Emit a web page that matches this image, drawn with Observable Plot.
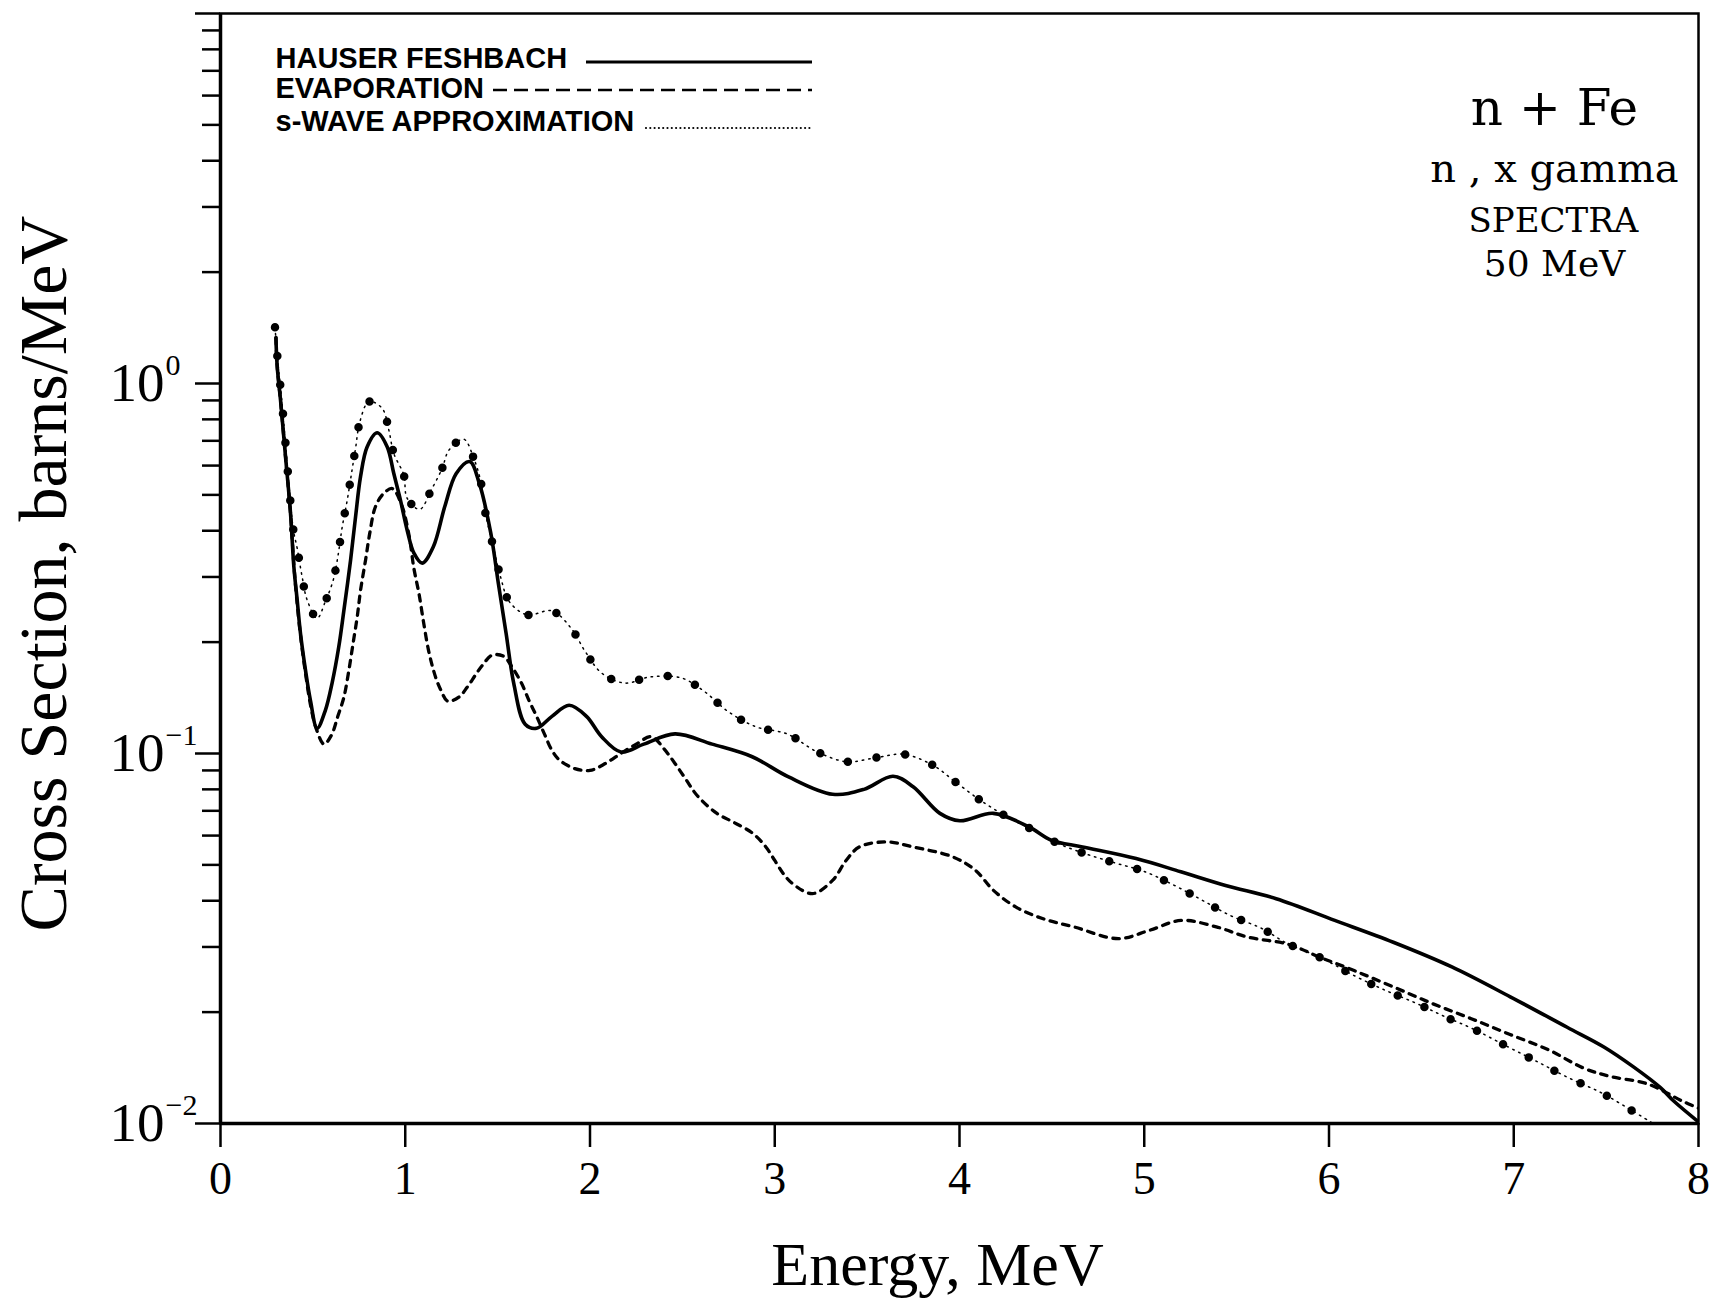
<!DOCTYPE html>
<html><head><meta charset="utf-8">
<script src="https://cdn.jsdelivr.net/npm/d3@7"></script>
<script src="https://cdn.jsdelivr.net/npm/@observablehq/plot@0.6"></script>
<style>html,body{margin:0;padding:0;background:#fff;} #chart{position:relative;width:1712px;height:1302px;}</style>
</head><body><div id="chart"></div>
<script>
// ---- data ----
const hfE = [0.30,0.307,0.325,0.352,0.379,0.397,0.415,0.433,0.46,0.487,0.523,0.568,0.604,0.64,0.668,0.704,0.731,0.758,0.794,0.848,0.902,0.938,0.974,1.01,1.047,1.092,1.152,1.214,1.276,1.349,1.401,1.463,1.504,1.546,1.587,1.649,1.711,1.794,1.887,1.981,2.063,2.167,2.291,2.46,2.661,2.878,3.072,3.313,3.483,3.64,3.749,3.894,4.002,4.183,4.376,4.497,4.666,4.956,5.198,5.44,5.714,6.031,6.348,6.665,6.981,7.289,7.488,7.65,7.794,7.866,8.0];
const hfV = [1.33,1.11,0.90,0.634,0.446,0.32,0.26,0.211,0.168,0.139,0.117,0.131,0.155,0.194,0.244,0.333,0.436,0.56,0.675,0.736,0.675,0.571,0.484,0.402,0.348,0.327,0.362,0.465,0.571,0.615,0.537,0.394,0.288,0.211,0.155,0.120,0.117,0.126,0.135,0.126,0.111,0.101,0.106,0.113,0.106,0.098,0.0866,0.0776,0.080,0.0868,0.0813,0.0689,0.0658,0.0689,0.0633,0.0583,0.0559,0.052,0.0479,0.044,0.0405,0.0354,0.0309,0.0265,0.022,0.0182,0.0161,0.0142,0.0125,0.0115,0.0101];

const evE = [0.30,0.307,0.325,0.352,0.379,0.40,0.43,0.46,0.49,0.52,0.56,0.60,0.635,0.668,0.695,0.718,0.74,0.758,0.785,0.808,0.839,0.884,0.93,0.98,1.02,1.047,1.074,1.10,1.128,1.164,1.191,1.23,1.29,1.335,1.38,1.417,1.471,1.533,1.579,1.629,1.67,1.711,1.753,1.794,1.835,1.918,2.0,2.084,2.167,2.25,2.333,2.40,2.46,2.52,2.58,2.685,2.782,2.878,2.951,3.0,3.047,3.096,3.204,3.313,3.386,3.458,3.603,3.749,3.966,4.087,4.183,4.304,4.449,4.618,4.86,5.03,5.2,5.39,5.56,5.78,5.946,6.136,6.348,6.559,6.77,6.98,7.19,7.38,7.524,7.723,7.912,8.0];
const evV = [1.33,1.11,0.90,0.634,0.446,0.31,0.215,0.165,0.133,0.116,0.106,0.112,0.126,0.142,0.168,0.199,0.234,0.276,0.333,0.394,0.465,0.505,0.52,0.47,0.39,0.316,0.271,0.225,0.188,0.161,0.149,0.1385,0.142,0.151,0.163,0.173,0.1845,0.183,0.171,0.155,0.139,0.126,0.113,0.102,0.096,0.091,0.090,0.094,0.100,0.106,0.111,0.103,0.094,0.085,0.077,0.069,0.065,0.061,0.056,0.0514,0.0473,0.0445,0.0418,0.0454,0.0514,0.0559,0.0577,0.0559,0.0525,0.0483,0.0427,0.0385,0.0358,0.034,0.0316,0.0333,0.0354,0.034,0.0319,0.0305,0.0282,0.0259,0.0234,0.0211,0.0192,0.0174,0.0158,0.0141,0.0134,0.0128,0.0115,0.011];

const swE = [0.295,0.31,0.33,0.355,0.375,0.395,0.415,0.442,0.469,0.523,0.568,0.61,0.635,0.659,0.686,0.709,0.731,0.754,0.803,0.875,0.911,0.938,0.992,1.01,1.079,1.14,1.2,1.236,1.317,1.371,1.407,1.434,1.479,1.516,1.564,1.66,1.794,1.898,1.976,2.063,2.19,2.323,2.495,2.62,2.746,2.9,3.066,3.23,3.391,3.55,3.70,3.857,3.978,4.112,4.256,4.401,4.534,4.691,4.848,5.0,5.163,5.307,5.465,5.634,5.777,5.953,6.143,6.305,6.475,6.622,6.781,6.97,7.126,7.295,7.475,7.631,7.754];
const swV = [1.42,1.15,0.92,0.66,0.50,0.40,0.359,0.30,0.26,0.232,0.258,0.294,0.34,0.41,0.484,0.571,0.668,0.787,0.893,0.857,0.749,0.647,0.566,0.49,0.457,0.515,0.59,0.66,0.707,0.627,0.548,0.446,0.358,0.30,0.257,0.237,0.243,0.218,0.188,0.165,0.155,0.161,0.160,0.147,0.130,0.118,0.113,0.101,0.095,0.0975,0.0995,0.0929,0.0838,0.0748,0.0675,0.062,0.0571,0.0534,0.0505,0.048,0.044,0.0403,0.0365,0.0337,0.0306,0.0281,0.025,0.0229,0.0211,0.0195,0.018,0.0161,0.0147,0.0133,0.0121,0.0109,0.0100];

const xTicks = [0,1,2,3,4,5,6,7,8];
const yMajor = [0.01,0.1,1,10];
const yExponents = ["\u22122","\u22121","0"];
const legendLabels = ["HAUSER FESHBACH","EVAPORATION","s-WAVE APPROXIMATION"];
const annotation = ["n + Fe","n , x gamma","SPECTRA","50 MeV"];

// ---- build tables ----
const toRows = (E, V) => E.map((e, i) => ({e, v: V[i]}));
const hf = toRows(hfE, hfV), ev = toRows(evE, evV), sw = toRows(swE, swV);
const yMinor = [];
for (const d of [0.01, 0.1, 1]) for (let k = 2; k <= 9; k++) yMinor.push(+(k * d).toPrecision(3));

const W = 1712, H = 1302, mL = 220, mR = 14, mT = 13, mB = 179;
const serif = "'Liberation Serif', 'DejaVu Serif', serif";
const wide = "'DejaVu Serif', serif";
const legendFont = "'Liberation Sans', sans-serif";

const plot = Plot.plot({
  width: W, height: H,
  marginLeft: mL, marginRight: mR, marginTop: mT, marginBottom: mB,
  style: {fontFamily: serif, background: "#fff", color: "#000", overflow: "visible"},
  x: {domain: [0, 8]},
  y: {type: "log", domain: [0.01, 10]},
  marks: [
    Plot.axisY({ticks: yMinor, tickSize: 18, tickFormat: () => "", strokeWidth: 2.5, label: null}),
    Plot.axisY({ticks: yMajor, tickSize: 25, tickPadding: 31, tickFormat: d => d >= 10 ? "" : "10",
      fontSize: 55, strokeWidth: 2.5, label: null}),
    Plot.text(yMajor.slice(0, 3), {y: d => d, text: (d, i) => yExponents[i], frameAnchor: "left",
      dx: -55, dy: -18, textAnchor: "start", fontSize: 30}),
    Plot.axisX({ticks: xTicks, tickSize: 24, tickPadding: 14, tickFormat: d => String(d),
      fontSize: 46, strokeWidth: 2.5, label: null}),
    Plot.frame({strokeWidth: 2.5}),
    Plot.ruleX([0], {strokeWidth: 3.5}),
    Plot.ruleY([0.01], {strokeWidth: 3.5}),
    // curves
    Plot.line(ev, {x: "e", y: "v", curve: "catmull-rom", stroke: "#000", strokeWidth: 3.3, strokeDasharray: "6.5 6.5", clip: true}),
    Plot.line(sw, {x: "e", y: "v", curve: "catmull-rom", stroke: "#000", strokeWidth: 1.5, strokeDasharray: "1.5 5", strokeLinecap: "round", clip: true}),
    Plot.line(sw, {x: "e", y: "v", curve: "catmull-rom", stroke: "#000", strokeWidth: 8.5, strokeDasharray: "0 29", strokeLinecap: "round", clip: true}),
    Plot.line(hf, {x: "e", y: "v", curve: "catmull-rom", stroke: "#000", strokeWidth: 3.6, clip: true}),
    // axis titles
    Plot.text(["Cross Section, barns/MeV"], {frameAnchor: "left", dx: -176, dy: 5, rotate: -90,
      textAnchor: "middle", lineAnchor: "middle", fontSize: 68}),
    Plot.text(["Energy, MeV"], {frameAnchor: "bottom", dx: -22, dy: 142,
      textAnchor: "middle", lineAnchor: "middle", fontSize: 62}),
    // annotation block (top right)
    Plot.text([annotation[0]], {frameAnchor: "top-left", dx: 1334, dy: 111, textAnchor: "middle", lineAnchor: "bottom", fontSize: 50, fontFamily: wide}),
    Plot.text([annotation[1]], {frameAnchor: "top-left", dx: 1334, dy: 168, textAnchor: "middle", lineAnchor: "bottom", fontSize: 40, fontFamily: wide}),
    Plot.text([annotation[2]], {frameAnchor: "top-left", dx: 1333, dy: 218, textAnchor: "middle", lineAnchor: "bottom", fontSize: 34, fontFamily: wide}),
    Plot.text([annotation[3]], {frameAnchor: "top-left", dx: 1334, dy: 262, textAnchor: "middle", lineAnchor: "bottom", fontSize: 36, fontFamily: wide}),
    // legend labels
    Plot.text([legendLabels[0]], {frameAnchor: "top-left", dx: 55, dy: 54, textAnchor: "start", lineAnchor: "bottom", fontSize: 29, fontWeight: "bold", fontFamily: legendFont}),
    Plot.text([legendLabels[1]], {frameAnchor: "top-left", dx: 55, dy: 84, textAnchor: "start", lineAnchor: "bottom", fontSize: 29, fontWeight: "bold", fontFamily: legendFont}),
    Plot.text([legendLabels[2]], {frameAnchor: "top-left", dx: 55, dy: 117, textAnchor: "start", lineAnchor: "bottom", fontSize: 29, fontWeight: "bold", fontFamily: legendFont})
  ]
});
document.getElementById("chart").appendChild(plot);

// legend line samples (not data)
const svg = d3.select(plot);
const lg = svg.append("g").attr("stroke", "#000").attr("fill", "none");
lg.append("line").attr("x1", 586).attr("x2", 812).attr("y1", 62).attr("y2", 62).attr("stroke-width", 2.8);
lg.append("line").attr("x1", 493).attr("x2", 812).attr("y1", 90).attr("y2", 90).attr("stroke-width", 2.6).attr("stroke-dasharray", "14 7");
lg.append("line").attr("x1", 646).attr("x2", 812).attr("y1", 128).attr("y2", 128).attr("stroke-width", 2.2).attr("stroke-dasharray", "0 4.3").attr("stroke-linecap", "round");
</script>
</body></html>
